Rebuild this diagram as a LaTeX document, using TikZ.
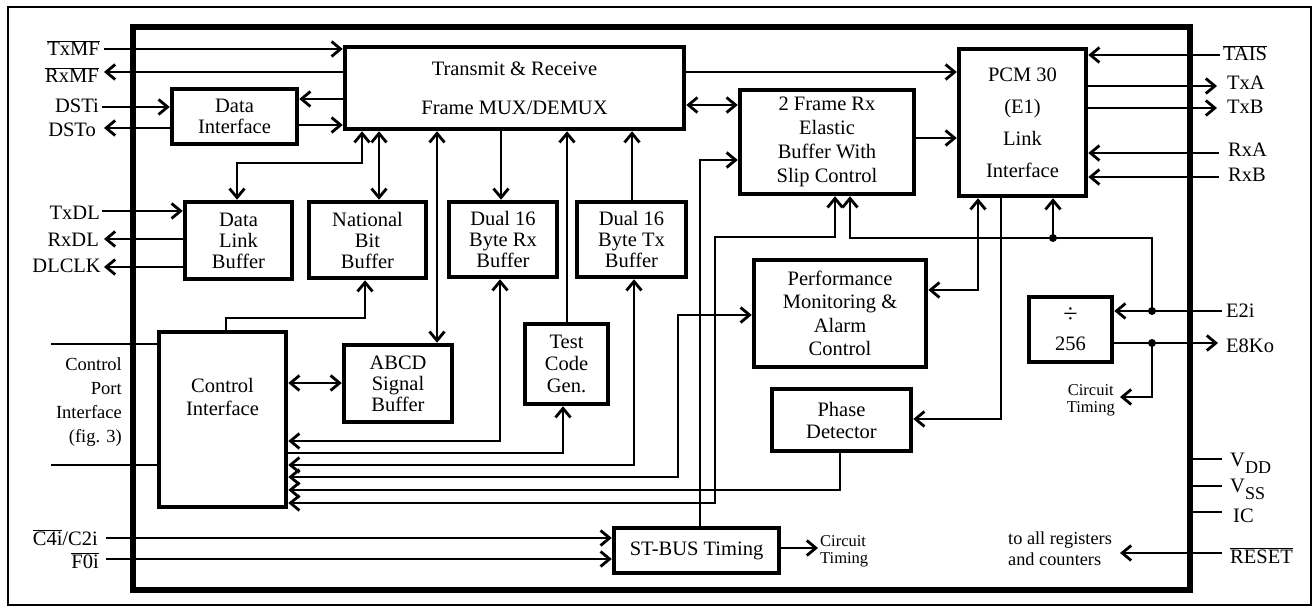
\documentclass[tikz,border=0pt]{standalone}
\usepackage{fontspec}
\setmainfont{Liberation Serif}
\usetikzlibrary{arrows.meta,calc}
\newcommand\fsmain{\fontsize{20.5}{21}\selectfont}
\newcommand\ovl[1]{\ensuremath{\overline{\mbox{#1}}}}
\begin{document}
\begin{tikzpicture}[x=1pt,y=-1pt,
  >={Straight Barb[length=9pt,width=15pt]},
  blk/.style={draw,line width=4.5pt,inner sep=0pt,align=center,font=\fsmain},
  conn/.style={line width=2.8pt},
  lbl/.style={inner sep=0pt,font=\fsmain},
  jdot/.style={circle,fill,inner sep=0pt,minimum size=8pt}]
\useasboundingbox (0,0) rectangle (1315,609);
% frames
\node[draw,line width=2pt,minimum width=1303pt,minimum height=598pt,inner sep=0pt] (frame) at (659.5,306) {};
\node[draw,line width=5.5pt,minimum width=1057pt,minimum height=563pt,inner sep=0pt] (chip) at (661.5,308.5) {};
% blocks
\node[blk,minimum width=339pt,minimum height=82pt] (mux) at (514.5,88) {Transmit \& Receive\\[18pt]Frame MUX/DEMUX};
\node[blk,minimum width=125pt,minimum height=55pt] (di) at (234.5,116.5) {Data\\Interface};
\node[blk,minimum width=107pt,minimum height=77pt] (dlb) at (238.5,240.5) {Data\\Link\\Buffer};
\node[blk,minimum width=117pt,minimum height=76pt] (nbb) at (367.5,240) {National\\Bit\\Buffer};
\node[blk,minimum width=108pt,minimum height=75pt] (rxb) at (503,239.5) {Dual 16\\Byte Rx\\Buffer};
\node[blk,minimum width=109pt,minimum height=75pt] (txb) at (631.5,239.5) {Dual 16\\Byte Tx\\Buffer};
\node[blk,minimum width=174pt,minimum height=104pt,font={\fontsize{20.5}{24}\selectfont}] (eb) at (827,142) {2 Frame Rx\\Elastic\\Buffer With\\Slip Control};
\node[blk,minimum width=127pt,minimum height=147pt,font={\fontsize{20.5}{32}\selectfont}] (pcm) at (1022.5,122.5) {PCM 30\\(E1)\\Link\\Interface};
\node[blk,minimum width=172pt,minimum height=107pt,font={\fontsize{20.5}{23.5}\selectfont}] (pm) at (840,313.5) {Performance\\Monitoring \&\\Alarm\\Control};
\node[blk,minimum width=139pt,minimum height=62pt,font={\fontsize{20.5}{22}\selectfont}] (pd) at (841.5,420) {Phase\\Detector};
\node[blk,minimum width=83pt,minimum height=65pt,font={\fontsize{20.5}{28}\selectfont}] (div) at (1070.5,329.5) {{\fontsize{26}{28}\selectfont ÷}\\256};
\node[blk,minimum width=127pt,minimum height=175pt] (ci) at (222.5,419.5) {};
\node[lbl,align=center,font={\fontsize{20.5}{23}\selectfont}] (citext) at (222.5,397) {Control\\Interface};
\node[blk,minimum width=108pt,minimum height=77pt] (abcd) at (398,383.5) {ABCD\\Signal\\Buffer};
\node[blk,minimum width=83pt,minimum height=80pt,font={\fontsize{20.5}{22}\selectfont}] (tcg) at (566.5,364) {Test\\Code\\Gen.};
\node[blk,minimum width=165pt,minimum height=45pt] (stb) at (696.5,550.5) {ST-BUS Timing};
% left pins
\coordinate (eTxMF) at (104,49);
\coordinate (eRxMF) at (104,72);
\coordinate (eDSTi) at (102,107);
\coordinate (eDSTo) at (104,128);
\coordinate (eTxDL) at (102,211);
\coordinate (eRxDL) at (104,239);
\coordinate (eDLCLK) at (104,267);
\draw[conn,->] (eTxMF) -- (mux.west |- eTxMF);
\draw[conn,->] (mux.west |- eRxMF) -- (eRxMF);
\draw[conn,->] (eDSTi) -- (di.west |- eDSTi);
\draw[conn,->] (di.west |- eDSTo) -- (eDSTo);
\draw[conn,->] (eTxDL) -- (dlb.west |- eTxDL);
\draw[conn,->] (dlb.west |- eRxDL) -- (eRxDL);
\draw[conn,->] (dlb.west |- eDLCLK) -- (eDLCLK);
% MUX connections
\draw[conn,->] (mux.west |- 0,99) -- (di.east |- 0,99);
\draw[conn,->] (di.east |- 0,125) -- (mux.west |- 0,125);
\draw[conn,<->] (362,0 |- mux.south) -- (362,163) -- (237,163) -- (237,0 |- dlb.north);
\draw[conn,<->] (379,0 |- mux.south) -- (379,0 |- nbb.north);
\draw[conn,<->] (437,0 |- mux.south) -- (437,0 |- abcd.north);
\draw[conn,->] (501,0 |- mux.south) -- (501,0 |- rxb.north);
\draw[conn,->] (567,0 |- tcg.north) -- (567,0 |- mux.south);
\draw[conn,->] (632,0 |- txb.north) -- (632,0 |- mux.south);
\draw[conn,<->] (mux.east |- 0,105) -- (eb.west |- 0,105);
\draw[conn,->] (mux.east |- 0,72) -- (pcm.west |- 0,72);
\draw[conn,->] (eb.east |- 0,138) -- (pcm.west |- 0,138);
% right pins
\coordinate (eTAIS) at (1220,55);
\coordinate (eTxA) at (1217,86);
\coordinate (eTxB) at (1217,108);
\coordinate (eRxA) at (1219,153);
\coordinate (eRxB) at (1219,177);
\draw[conn,->] (eTAIS) -- (pcm.east |- eTAIS);
\draw[conn,->] (pcm.east |- eTxA) -- (eTxA);
\draw[conn,->] (pcm.east |- eTxB) -- (eTxB);
\draw[conn,->] (eRxA) -- (pcm.east |- eRxA);
\draw[conn,->] (eRxB) -- (pcm.east |- eRxB);
% control interface
\coordinate (eCP1) at (51,344);
\coordinate (eCP2) at (51,465);
\draw[conn] (eCP1) -- (ci.west |- eCP1);
\draw[conn] (eCP2) -- (ci.west |- eCP2);
\draw[conn,->] (226,0 |- ci.north) -- (226,318) -- (365,318) -- (365,0 |- nbb.south);
\draw[conn,<->] (ci.east |- 0,383) -- (abcd.west |- 0,383);
\draw[conn,<->] (ci.east |- 0,441) -- (500,441) -- (500,0 |- rxb.south);
\draw[conn,->] (ci.east |- 0,453) -- (563,453) -- (563,0 |- tcg.south);
\draw[conn,<->] (ci.east |- 0,465) -- (634,465) -- (634,0 |- txb.south);
\draw[conn,<->] (ci.east |- 0,477) -- (678,477) -- (678,315) -- (pm.west |- 0,315);
\draw[conn,->] (840,0 |- pd.south) -- (840,490) -- (ci.east |- 0,490);
\draw[conn,<->] (ci.east |- 0,503) -- (715,503) -- (715,237) -- (835,237) -- (835,0 |- eb.south);
\draw[conn,->] (700,0 |- stb.north) -- (700,160) -- (eb.west |- 0,160);
% E2i / E8Ko
\coordinate (eE2i) at (1222,311);
\coordinate (jA) at (1152,311);
\coordinate (jB) at (1053,238);
\draw[conn,->] (eE2i) -- (div.east |- eE2i);
\draw[conn,->] (jA) -- (1152,238) -- (850,238) -- (850,0 |- eb.south);
\draw[conn,->] (jB) -- (1053,0 |- pcm.south);
\node[jdot] (dA) at (jA) {};
\node[jdot] (dB) at (jB) {};
\draw[conn,<->] (978,0 |- pcm.south) -- (978,290) -- (pm.east |- 0,290);
\draw[conn,->] (1001,0 |- pcm.south) -- (1001,419) -- (pd.east |- 0,419);
\coordinate (eE8Ko) at (1218,343);
\coordinate (jC) at (1152,343);
\coordinate (eCT2) at (1120,397);
\draw[conn,->] (div.east |- eE8Ko) -- (eE8Ko);
\draw[conn,->] (jC) -- (1152,397) -- (eCT2);
\node[jdot] (dC) at (jC) {};
% power pins and reset
\coordinate (eVDD) at (1222,459);
\coordinate (eVSS) at (1222,486);
\coordinate (eIC) at (1222,512);
\draw[conn] (chip.east |- eVDD) -- (eVDD);
\draw[conn] (chip.east |- eVSS) -- (eVSS);
\draw[conn] (chip.east |- eIC) -- (eIC);
\coordinate (eRESET) at (1222,553);
\coordinate (eRegs) at (1120,553);
\draw[conn,->] (eRESET) -- (eRegs);
% ST-BUS
\coordinate (eC4i) at (106,538);
\coordinate (eF0i) at (106,559);
\coordinate (eCT1) at (818,548);
\draw[conn,->] (eC4i) -- (stb.west |- eC4i);
\draw[conn,->] (eF0i) -- (stb.west |- eF0i);
\draw[conn,->] (stb.east |- eCT1) -- (eCT1);
% labels
\node[lbl,anchor=base east] (lTxMF) at (100,56) {\ovl{TxMF}};
\node[lbl,anchor=base east] (lRxMF) at (99,83) {\ovl{RxMF}};
\node[lbl,anchor=base east] (lDSTi) at (99,113) {DSTi};
\node[lbl,anchor=base east] (lDSTo) at (96,137) {DSTo};
\node[lbl,anchor=base east] (lTxDL) at (100,220) {TxDL};
\node[lbl,anchor=base east] (lRxDL) at (99,247) {RxDL};
\node[lbl,anchor=base east] (lDLCLK) at (101,273) {DLCLK};
\node[lbl,anchor=base west] (lTAIS) at (1223,61) {\ovl{TAIS}};
\node[lbl,anchor=base west] (lTxA) at (1227,90) {TxA};
\node[lbl,anchor=base west] (lTxB) at (1227,114) {TxB};
\node[lbl,anchor=base west] (lRxA) at (1228,157) {RxA};
\node[lbl,anchor=base west] (lRxB) at (1228,182) {RxB};
\node[lbl,anchor=base west] (lE2i) at (1226,318) {E2i};
\node[lbl,anchor=base west] (lE8Ko) at (1226,353) {E8Ko};
\node[lbl,anchor=base west] (lVDD) at (1230,467) {V\raisebox{-6pt}{\fontsize{18}{18}\selectfont DD}};
\node[lbl,anchor=base west] (lVSS) at (1230,493) {V\raisebox{-6pt}{\fontsize{18}{18}\selectfont SS}};
\node[lbl,anchor=base west] (lIC) at (1233,522) {IC};
\node[lbl,anchor=base west] (lRESET) at (1230,563) {\ovl{RESET}};
\node[lbl,anchor=base east] (lC4i) at (98,545) {\ovl{C4i}/C2i};
\node[lbl,anchor=base east] (lF0i) at (99,568) {\ovl{F0i}};
\node[lbl,align=right,anchor=north east,font={\fontsize{18.5}{24}\selectfont}] (lCP) at (122,357) {Control\\Port\\Interface\\(fig. 3)};
\node[lbl,align=left,anchor=west,font={\fontsize{16.5}{17}\selectfont}] (lCT1) at (820,551) {Circuit\\Timing};
\node[lbl,align=center,anchor=east,font={\fontsize{16.5}{17}\selectfont}] (lCT2) at (1115,400) {Circuit\\Timing};
\node[lbl,align=left,anchor=north west,font={\fontsize{18.3}{21}\selectfont}] (lReg) at (1008,532) {to all registers\\and counters};
\end{tikzpicture}
\end{document}
